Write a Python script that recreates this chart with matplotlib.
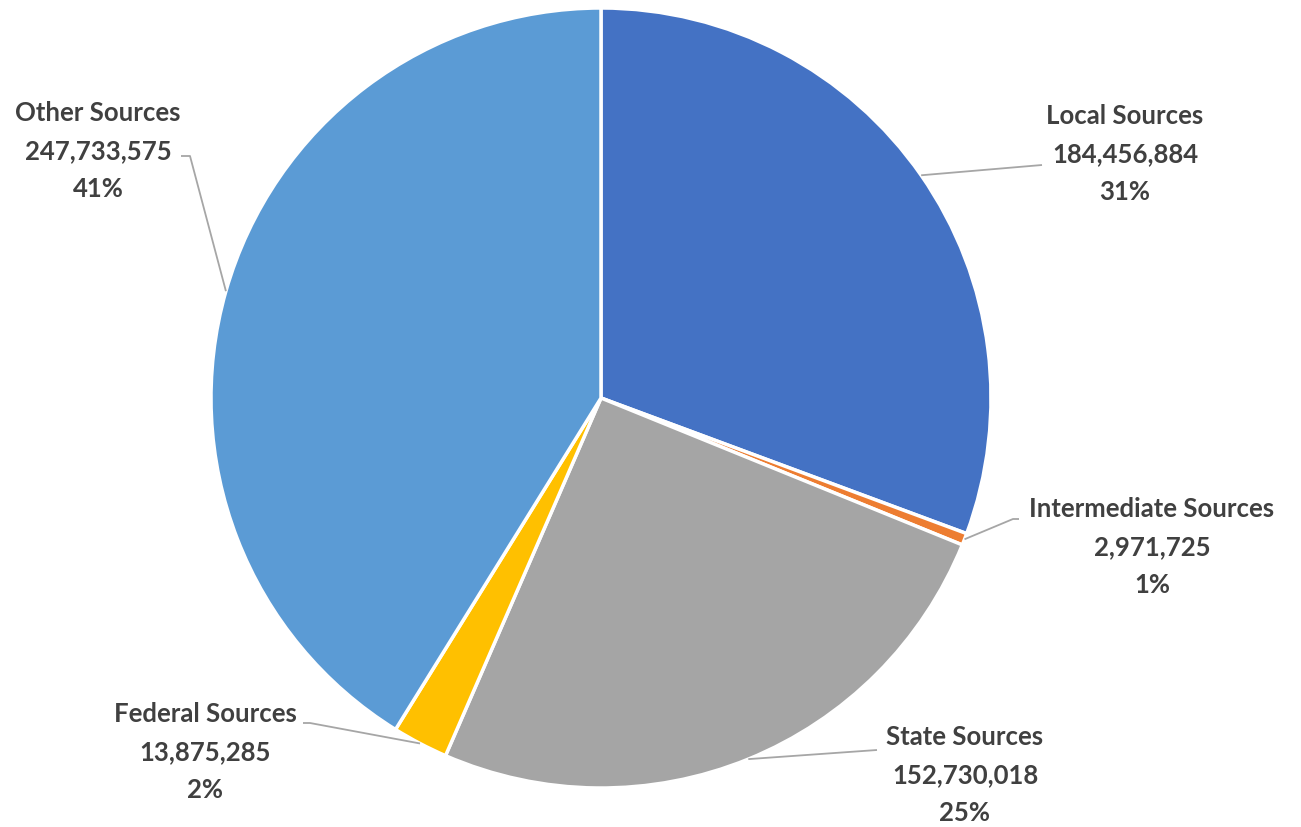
import numpy as np
import matplotlib.pyplot as plt

sources = ["Local Sources", "Intermediate Sources", "State Sources",
           "Federal Sources", "Other Sources"]
amounts = [184456884, 2971725, 152730018, 13875285, 247733575]
pct_labels = ["31%", "1%", "25%", "2%", "41%"]
colors = ["#4472C4", "#ED7D31", "#A5A5A5", "#FFC000", "#5B9BD5"]

# label block centres and leader elbows (pixel coords, y from the top)
label_xy = [(1125, 154), (1152, 547), (965, 775), (205, 752), (98, 151)]
elbows = [[(1042, 165)], [(1013, 519), (1019, 519)], [(877, 750)],
          [(310, 723), (303, 723)], [(190, 156), (181, 156)]]

W, H = 1301, 827
fig = plt.figure(figsize=(W / 100, H / 100), dpi=100)
ax = fig.add_axes([0, 0, 1, 1])

cx, cy, r = 601, H - 398, 390
wedges, _ = ax.pie(amounts, colors=colors, startangle=90, counterclock=False,
                   center=(cx, cy), radius=r, frame=True,
                   wedgeprops=dict(edgecolor="white", linewidth=2.5))
ax.set_xlim(0, W)
ax.set_ylim(0, H)
ax.set_aspect("equal")
ax.axis("off")

for w, name, val, pct, (tx, ty), pts in zip(wedges, sources, amounts, pct_labels,
                                            label_xy, elbows):
    mid = np.deg2rad((w.theta1 + w.theta2) / 2)
    ex, ey = cx + r * np.cos(mid), cy + r * np.sin(mid)
    xs = [ex] + [p[0] for p in pts]
    ys = [ey] + [H - p[1] for p in pts]
    ax.plot(xs, ys, color="#A6A6A6", lw=1.3, solid_capstyle="butt")
    ax.text(tx, H - ty, f"{name}\n{val:,}\n{pct}", ha="center", va="center",
            fontsize=18.5, fontweight="bold", family="Lato", color="#404040",
            linespacing=1.68)

fig.savefig("out.png", dpi=100, facecolor="white")
